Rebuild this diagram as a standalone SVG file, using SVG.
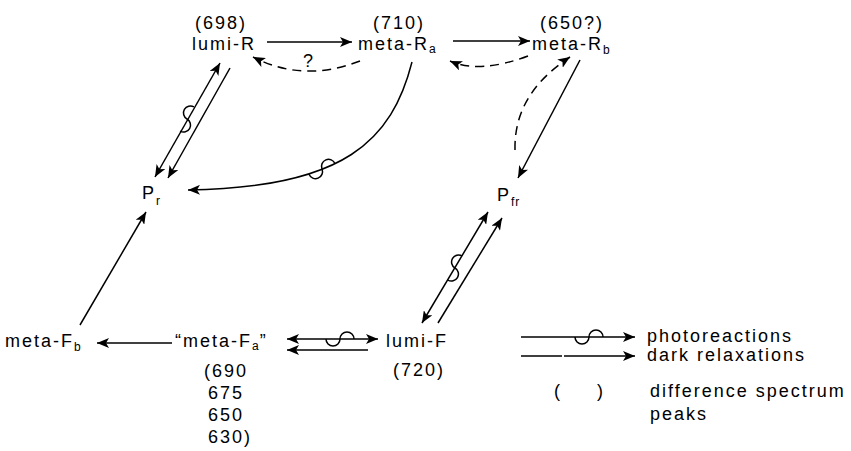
<svg xmlns="http://www.w3.org/2000/svg" width="851" height="451" viewBox="0 0 851 451">
<defs>
<style>
text{font-family:"Liberation Sans",Arial,sans-serif;font-size:18px;letter-spacing:2px;fill:#000}
.sub{font-size:12px;letter-spacing:1px}
.c{fill:none;stroke:#000;stroke-width:1.5}
.d{stroke-dasharray:9,6}
</style>
<marker id="ah" viewBox="0 0 12 10" refX="12" refY="5" markerWidth="12" markerHeight="10" markerUnits="userSpaceOnUse" orient="auto-start-reverse">
<path d="M0,0 L12,5 L0,10 L3,5 z" fill="#000"/>
</marker>
<path id="sq" d="M-14,0 a7,7 0 0 0 14,0 a7,7 0 0 1 14,0" fill="none" stroke="#000" stroke-width="1.5"/>
</defs>
<rect width="851" height="451" fill="#fff"/>

<g id="lumi-R"><text x="195" y="29">(698)</text><text x="192" y="50">lumi-R</text></g>
<g id="meta-Ra"><text x="373" y="29">(710)</text><text x="358" y="50">meta-R<tspan class="sub" dy="3">a</tspan></text></g>
<g id="meta-Rb"><text x="540" y="29">(650?)</text><text x="532" y="50">meta-R<tspan class="sub" dy="4">b</tspan></text></g>
<g id="Pr"><text x="142" y="199">P<tspan class="sub" dy="6">r</tspan></text></g>
<g id="Pfr"><text x="497" y="201">P<tspan class="sub" dy="5">fr</tspan></text></g>
<g id="meta-Fb"><text x="5" y="347">meta-F<tspan class="sub" dy="4">b</tspan></text></g>
<g id="meta-Fa"><text x="175" y="347">“meta-F<tspan class="sub" dy="3">a</tspan><tspan dy="-3">”</tspan></text>
<text x="204" y="377">(690</text><text x="208" y="399">675</text><text x="208" y="421">650</text><text x="208" y="443">630)</text></g>
<g id="lumi-F"><text x="386" y="347">lumi-F</text><text x="393" y="376">(720)</text></g>

<g id="connectors">
<line class="c" x1="267" y1="42" x2="352" y2="42" marker-end="url(#ah)"/>
<line class="c" x1="453" y1="41" x2="530" y2="41" marker-end="url(#ah)"/>
<path class="c d" d="M360,61 Q303,83 253,57" marker-end="url(#ah)"/>
<text x="303" y="67">?</text>
<path class="c d" d="M528,56 Q480,74 450,61" marker-end="url(#ah)"/>
<line class="c" x1="220" y1="63" x2="155" y2="177" marker-start="url(#ah)" marker-end="url(#ah)"/>
<use href="#sq" transform="translate(187,119) rotate(-60.3)"/>
<line class="c" x1="230" y1="68" x2="168" y2="178" marker-end="url(#ah)"/>
<path class="c" d="M412,62 C392,140 345,188 188,190" marker-end="url(#ah)"/>
<use href="#sq" transform="translate(322,169) rotate(-22)"/>
<line class="c" x1="580" y1="60" x2="518" y2="178" marker-end="url(#ah)"/>
<path class="c d" d="M515,150 C514,110 535,80 570,57" marker-end="url(#ah)"/>
<line class="c" x1="488" y1="212" x2="422" y2="323" marker-start="url(#ah)" marker-end="url(#ah)"/>
<use href="#sq" transform="translate(455,268) rotate(-59.3)"/>
<line class="c" x1="438" y1="323" x2="502" y2="218" marker-end="url(#ah)"/>
<line class="c" x1="80" y1="325" x2="146" y2="212" marker-end="url(#ah)"/>
<line class="c" x1="172" y1="343" x2="97" y2="343" marker-end="url(#ah)"/>
<line class="c" x1="287" y1="339" x2="378" y2="339" marker-start="url(#ah)" marker-end="url(#ah)"/>
<use href="#sq" transform="translate(340,339)"/>
<line class="c" x1="368" y1="350" x2="287" y2="350" marker-end="url(#ah)"/>
</g>

<g id="legend">
<line class="c" x1="521" y1="337" x2="635" y2="337" marker-end="url(#ah)"/>
<use href="#sq" transform="translate(589,337)"/>
<text x="647" y="342">photoreactions</text>
<path class="c" d="M521,356 H562 M564,356 H635" marker-end="url(#ah)"/>
<text x="647" y="361">dark relaxations</text>
<text x="554" y="397">(</text><text x="597" y="397">)</text>
<text x="650" y="397">difference spectrum</text>
<text x="650" y="420">peaks</text>
</g>
</svg>
